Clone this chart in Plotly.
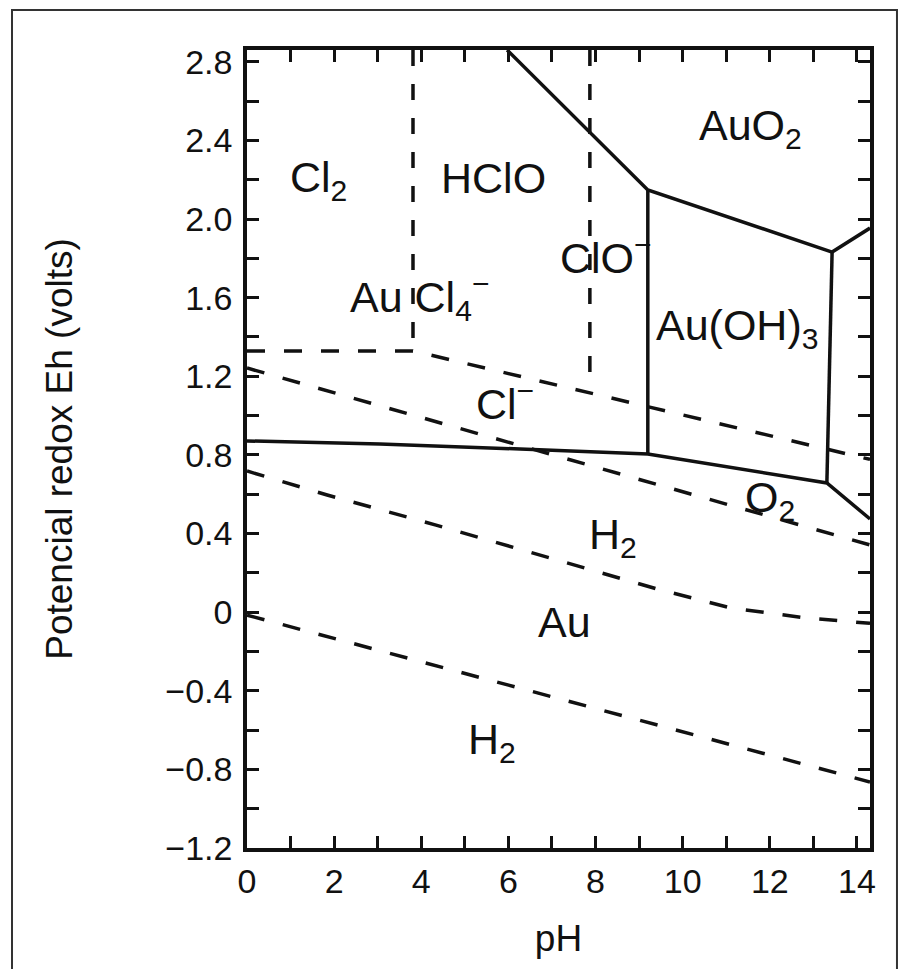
import plotly.graph_objects as go

# ---------------- data (pH, Eh in volts) ----------------
# solid boundaries
au_low_ph = [0.0, 3.05, 6.27, 9.20, 13.31, 14.30]
au_low_eh = [0.871, 0.855, 0.830, 0.805, 0.657, 0.474]

au_high_ph = [5.97, 7.87, 8.68, 9.20, 13.43, 14.30]
au_high_eh = [2.86, 2.438, 2.260, 2.148, 1.832, 1.954]

auoh_left_ph = [9.20, 9.20]
auoh_left_eh = [2.148, 0.805]

auoh_right_ph = [13.43, 13.31]
auoh_right_eh = [1.832, 0.657]

# dashed boundaries
cl_ph = [0.0, 3.81, 14.30]
cl_eh = [1.329, 1.329, 0.777]

o2_ph = [0.0, 3.56, 10.28, 14.30]
o2_eh = [1.242, 1.018, 0.591, 0.342]

mid_ph = [0.0, 1.84, 4.34, 6.89, 9.41, 11.11, 12.85, 14.30]
mid_eh = [0.718, 0.596, 0.443, 0.281, 0.118, 0.021, -0.030, -0.057]

h2_ph = [0.0, 7.18, 14.30]
h2_eh = [-0.015, -0.442, -0.864]

cl2_hclo_ph = [3.81, 3.81]
cl2_hclo_eh = [2.86, 1.329]

hclo_clo_ph = [7.87, 7.87]
hclo_clo_eh = [2.86, 1.130]

# region labels
label_text = ["Cl<sub>2</sub>", "HClO", "Au Cl<sub>4</sub><sup>−</sup>", "ClO<sup>−</sup>",
              "Au(OH)<sub>3</sub>", "AuO<sub>2</sub>", "Cl<sup>−</sup>",
              "O<sub>2</sub>", "H<sub>2</sub>", "Au", "H<sub>2</sub>"]
label_ph = [1.63, 5.65, 3.95, 8.25, 11.25, 11.55, 5.92, 12.0, 8.40, 7.28, 5.62]
label_eh = [2.199, 2.209, 1.603, 1.817, 1.446, 2.463, 1.074, 0.571, 0.382, -0.050, -0.661]

# ticks
x_major = [0, 2, 4, 6, 8, 10, 12, 14]
x_major_text = ["0", "2", "4", "6", "8", "10", "12", "14"]
y_major = [-1.2, -0.8, -0.4, 0.0, 0.4, 0.8, 1.2, 1.6, 2.0, 2.4, 2.8]
y_major_text = ["−1.2", "−0.8", "−0.4", "0", "0.4", "0.8", "1.2", "1.6", "2.0", "2.4", "2.8"]

FONT = "Liberation Sans, Arial, Helvetica, sans-serif"
INK = "#111111"

fig = go.Figure()

solid = dict(color=INK, width=3.5)
dashed_h = dict(color=INK, width=3.5, dash="18px,19px")
dashed_v = dict(color=INK, width=3.5, dash="16px,18px")

for xs, ys in [(au_low_ph, au_low_eh), (au_high_ph, au_high_eh),
               (auoh_left_ph, auoh_left_eh), (auoh_right_ph, auoh_right_eh)]:
    fig.add_trace(go.Scatter(x=xs, y=ys, mode="lines", line=solid,
                             showlegend=False, hoverinfo="skip"))

for xs, ys in [(cl_ph, cl_eh), (o2_ph, o2_eh), (mid_ph, mid_eh), (h2_ph, h2_eh)]:
    fig.add_trace(go.Scatter(x=xs, y=ys, mode="lines", line=dashed_h,
                             showlegend=False, hoverinfo="skip"))

for xs, ys in [(cl2_hclo_ph, cl2_hclo_eh), (hclo_clo_ph, hclo_clo_eh)]:
    fig.add_trace(go.Scatter(x=xs, y=ys, mode="lines", line=dashed_v,
                             showlegend=False, hoverinfo="skip"))

for t, x, y in zip(label_text, label_ph, label_eh):
    fig.add_annotation(x=x, y=y, text=t, showarrow=False,
                       font=dict(family=FONT, size=43, color=INK))

# outer frame of the figure
fig.add_shape(type="rect", xref="paper", yref="paper",
              x0=-0.3772, x1=1.0433, y0=-0.16, y1=1.05,
              line=dict(color="#333333", width=2))

axis_common = dict(showgrid=False, zeroline=False, showline=True, linecolor=INK,
                   linewidth=3.5, mirror="allticks", ticks="inside", ticklen=12,
                   tickwidth=3, tickcolor=INK,
                   tickfont=dict(family=FONT, size=34, color=INK))

fig.update_xaxes(range=[0, 14.3], tickmode="array", tickvals=x_major, ticktext=x_major_text,
                 minor=dict(dtick=1, tick0=0, ticks="inside", ticklen=12, tickwidth=3,
                            tickcolor=INK),
                 ticklabelstandoff=0,
                 title=dict(text="pH", font=dict(family=FONT, size=37, color=INK), standoff=28),
                 **axis_common)
fig.update_yaxes(range=[-1.2, 2.86], tickmode="array", tickvals=y_major, ticktext=y_major_text,
                 minor=dict(dtick=0.2, tick0=-1.2, ticks="inside", ticklen=12, tickwidth=3,
                            tickcolor=INK),
                 ticklabelstandoff=4,
                 title=dict(text="Potencial redox Eh (volts)",
                            font=dict(family=FONT, size=37, color=INK), standoff=82),
                 **axis_common)

fig.update_layout(width=902, height=961, plot_bgcolor="white", paper_bgcolor="white",
                  margin=dict(l=239, r=40, t=42, b=121, autoexpand=False),
                  showlegend=False)

fig.write_html("out.html")
